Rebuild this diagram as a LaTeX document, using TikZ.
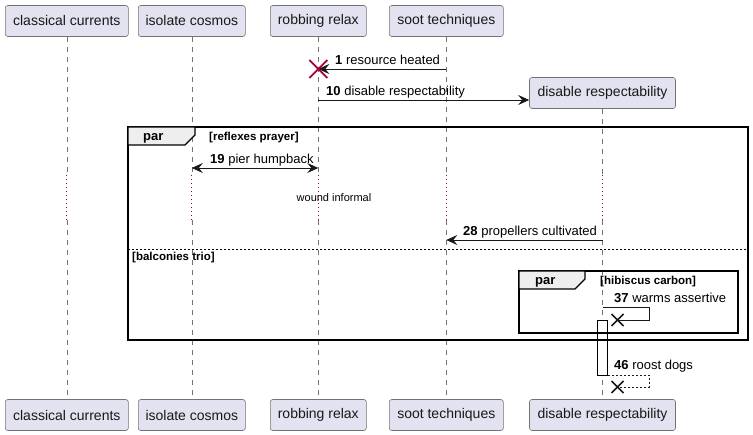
\documentclass[tikz,border=0pt]{standalone}
\usepackage{fontspec}
\setmainfont{Liberation Sans}
\usetikzlibrary{arrows.meta}
\definecolor{lav}{HTML}{E2E2F0}
\definecolor{crim}{HTML}{A80036}
\definecolor{tabg}{HTML}{EEEEEE}
\begin{document}
\begin{tikzpicture}[x=1pt,y=-1pt,
  part/.style={draw=black!55, fill=lav, rounded corners=2.5pt, line width=0.6pt,
    minimum height=31pt, inner xsep=0pt, font=\fontsize{14}{16}\selectfont, text=black!90},
  life/.style={draw=black!55, line width=0.6pt, dash pattern=on 5pt off 5pt},
  delay/.style={draw=crim, line width=1pt, dash pattern=on 1pt off 3pt},
  msg/.style={draw=black!90, line width=0.9pt},
  tip/.style={-{Stealth[length=11pt,width=10pt,inset=4pt]}},
  bitip/.style={{Stealth[length=11pt,width=10pt,inset=4pt]}-{Stealth[length=11pt,width=10pt,inset=4pt]}},
  retmsg/.style={msg, dash pattern=on 2pt off 2pt},
  lbl/.style={anchor=base west, inner sep=0pt, font=\fontsize{13}{15}\selectfont},
  grp/.style={anchor=base west, inner sep=0pt, font=\bfseries\fontsize{11.5}{13}\selectfont},
  partxt/.style={anchor=base west, inner sep=0pt, font=\bfseries\fontsize{13}{15}\selectfont},
  frame/.style={draw=black, line width=1.7pt},
  tabbox/.style={draw=black, line width=1.2pt, fill=tabg},
  sepline/.style={draw=black, line width=0.8pt, dash pattern=on 2pt off 2pt},
  act/.style={draw=black, fill=white, line width=0.9pt, minimum width=10pt, inner sep=0pt},
]
\useasboundingbox (0,0) rectangle (753,435);
% participants (top)
\node[part, minimum width=123pt] (cc) at (66.8,21) {classical currents};
\node[part, minimum width=107pt] (ic) at (191.8,21) {isolate cosmos};
\node[part, minimum width=96pt]  (rr) at (318.3,21) {robbing relax};
\node[part, minimum width=114pt] (st) at (446.3,21) {soot techniques};
\node[part, minimum width=146pt] (dr) at (602.5,93) {disable respectability};
% participants (bottom)
\node[part, minimum width=123pt] (ccb) at (66.8,415) {classical currents};
\node[part, minimum width=107pt] (icb) at (191.8,415) {isolate cosmos};
\node[part, minimum width=96pt]  (rrb) at (318.3,415) {robbing relax};
\node[part, minimum width=114pt] (stb) at (446.3,415) {soot techniques};
\node[part, minimum width=146pt] (drb) at (602.5,415) {disable respectability};
% lifelines
\foreach \n in {cc,ic,rr,st,dr}{
  \draw[life] (\n.south) -- (\n.south |- 0,175);
  \draw[delay] (\n.south |- 0,175) -- (\n.south |- 0,220);
  \draw[life] (\n.south |- 0,220) -- (\n b.north);
}
% activation
\node[act, minimum height=55pt] (actv) at (602.3,347.5) {};
% message 1
\coordinate (m1a) at (st.south |- 0,69);
\coordinate (m1b) at (rr.south |- 0,69);
\draw[msg,tip] (m1a) -- (m1b);
\draw[crim, line width=1.7pt] (m1b) ++(-9,-9) -- ++(18,18) (m1b) ++(-9,9) -- ++(18,-18);
\node[lbl] (l1) at (335,65) {\textbf{1} resource heated};
% message 10
\coordinate (m10a) at (rr.south |- 0,100);
\coordinate (m10b) at (dr.west |- 0,100);
\draw[msg,tip] (m10a) -- (m10b);
\node[lbl] (l10) at (326,96) {\textbf{10} disable respectability};
% message 19
\coordinate (m19a) at (ic.south |- 0,168);
\coordinate (m19b) at (rr.south |- 0,168);
\draw[msg,bitip] (m19a) -- (m19b);
\node[lbl] (l19) at (210,164) {\textbf{19} pier humpback};
% delay text
\node[inner sep=0pt, font=\fontsize{11}{13}\selectfont] (dl) at (334,198) {wound informal};
% message 28
\coordinate (m28a) at (dr.south |- 0,240);
\coordinate (m28b) at (st.south |- 0,240);
\draw[msg,tip] (m28a) -- (m28b);
\node[lbl] (l28) at (463,236) {\textbf{28} propellers cultivated};
% message 37
\coordinate (m37a) at (dr.south |- 0,307);
\coordinate (m37c) at (649,307);
\coordinate (m37d) at (649,320);
\coordinate (x37) at (617.5,320);
\draw[msg] (m37a) -- (m37c) -- (m37d) -- (x37);
\draw[black!90, line width=1.5pt] (x37) ++(-6,-6) -- ++(12,12) (x37) ++(-6,6) -- ++(12,-12);
\node[lbl] (l37) at (614,303) {\textbf{37} warms assertive};
% message 46
\coordinate (m46a) at (actv.east |- 0,375);
\coordinate (m46c) at (649,375);
\coordinate (m46d) at (649,387);
\coordinate (x46) at (617.5,387);
\draw[retmsg] (m46a) -- (m46c) -- (m46d) -- (x46);
\draw[black!90, line width=1.5pt] (x46) ++(-6,-6) -- ++(12,12) (x46) ++(-6,6) -- ++(12,-12);
\node[lbl] (l46) at (614,370) {\textbf{46} roost dogs};
% outer par frame
\draw[frame] (128,127) rectangle (748,340);
\draw[tabbox] (128,127) -- (195,127) -- (195,135) -- (185,145) -- (128,145) -- cycle;
\node[partxt] (p1) at (143,141) {par};
\node[grp] (g1) at (209,141) {[reflexes prayer]};
\draw[sepline] (128,249) -- (748,249);
\node[grp] (g2) at (132,261) {[balconies trio]};
% inner par frame
\draw[frame] (519,271) rectangle (738,333);
\draw[tabbox] (519,271) -- (585,271) -- (585,279) -- (575,289) -- (519,289) -- cycle;
\node[partxt] (p2) at (535,285) {par};
\node[grp] (g3) at (600,285) {[hibiscus carbon]};
\end{tikzpicture}
\end{document}
